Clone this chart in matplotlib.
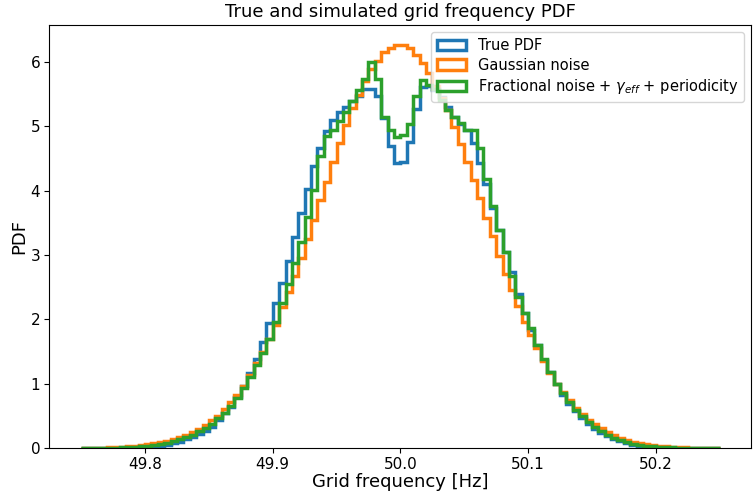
import numpy as np
import matplotlib
matplotlib.use("Agg")
import matplotlib.pyplot as plt

# bin edges of the histograms [Hz]
edges = np.linspace(49.75, 50.25, 101)

# PDF values per bin
true_pdf = [0.001, 0.001, 0.001, 0.001, 0.002, 0.002, 0.003, 0.004, 0.006, 0.010,
            0.016, 0.025, 0.038, 0.055, 0.075, 0.10, 0.135, 0.17, 0.22, 0.27,
            0.33, 0.43, 0.54, 0.64, 0.80, 0.96, 1.16, 1.39, 1.65, 1.94,
            2.25, 2.57, 2.91, 3.28, 3.65, 4.03, 4.38, 4.66, 4.93, 5.10,
            5.22, 5.30, 5.39, 5.48, 5.58, 5.58, 5.47, 5.13, 4.69, 4.43,
            4.45, 4.76, 5.27, 5.62, 5.63, 5.57, 5.45, 5.30, 5.14, 5.03,
            4.95, 4.74, 4.43, 4.10, 3.73, 3.39, 3.05, 2.73, 2.40, 2.10,
            1.84, 1.60, 1.37, 1.19, 1.00, 0.83, 0.69, 0.57, 0.46, 0.37,
            0.30, 0.24, 0.185, 0.14, 0.105, 0.078, 0.055, 0.038, 0.026, 0.018,
            0.012, 0.008, 0.005, 0.004, 0.003, 0.002, 0.001, 0.001, 0.001, 0.001]

gauss_pdf = [0.003, 0.004, 0.006, 0.008, 0.011, 0.015, 0.02, 0.027, 0.035, 0.045,
             0.057, 0.072, 0.09, 0.115, 0.14, 0.17, 0.20, 0.25, 0.30, 0.36,
             0.43, 0.50, 0.61, 0.72, 0.83, 0.97, 1.14, 1.32, 1.50, 1.70,
             1.92, 2.20, 2.43, 2.68, 2.95, 3.25, 3.55, 3.86, 4.14, 4.44,
             4.74, 5.02, 5.28, 5.49, 5.70, 5.89, 6.02, 6.16, 6.22, 6.26,
             6.26, 6.22, 6.11, 5.98, 5.83, 5.63, 5.44, 5.26, 4.99, 4.73,
             4.45, 4.17, 3.88, 3.58, 3.29, 2.99, 2.71, 2.46, 2.21, 1.96,
             1.75, 1.55, 1.35, 1.16, 1.00, 0.87, 0.74, 0.62, 0.53, 0.44,
             0.37, 0.31, 0.25, 0.20, 0.16, 0.125, 0.10, 0.075, 0.058, 0.045,
             0.035, 0.027, 0.02, 0.015, 0.011, 0.008, 0.006, 0.004, 0.003, 0.003]

frac_pdf = [0.002, 0.002, 0.003, 0.004, 0.006, 0.008, 0.011, 0.015, 0.020, 0.028,
            0.038, 0.05, 0.065, 0.085, 0.11, 0.14, 0.17, 0.21, 0.26, 0.31,
            0.37, 0.46, 0.54, 0.65, 0.78, 0.93, 1.11, 1.29, 1.48, 1.69,
            1.96, 2.25, 2.55, 2.87, 3.20, 3.59, 4.01, 4.54, 4.85, 4.94,
            5.08, 5.22, 5.40, 5.57, 5.74, 6.00, 5.73, 5.14, 4.94, 4.84,
            4.87, 5.04, 5.48, 5.72, 5.65, 5.58, 5.41, 5.26, 5.14, 5.05,
            4.95, 4.95, 4.66, 4.18, 3.77, 3.39, 3.04, 2.67, 2.35, 2.10,
            1.86, 1.60, 1.39, 1.19, 1.00, 0.86, 0.72, 0.59, 0.50, 0.41,
            0.33, 0.27, 0.21, 0.16, 0.12, 0.09, 0.068, 0.05, 0.037, 0.027,
            0.019, 0.013, 0.009, 0.006, 0.004, 0.003, 0.002, 0.002, 0.001, 0.001]

labels = ["True PDF", "Gaussian noise",
          r"Fractional noise + $\gamma_{eff}$ + periodicity"]

fig = plt.figure(figsize=(7.53, 4.94), dpi=100)
ax = fig.add_axes([0.0655, 0.093, 0.9325, 0.856])

centers = 0.5 * (edges[:-1] + edges[1:])
for vals, lab in zip([true_pdf, gauss_pdf, frac_pdf], labels):
    ax.hist(centers, bins=edges, weights=vals, histtype="step",
            linewidth=2.5, label=lab)

ax.set_title("True and simulated grid frequency PDF", fontsize=13)
ax.set_xlabel("Grid frequency [Hz]", fontsize=13, labelpad=1)
ax.set_ylabel("PDF", fontsize=13, labelpad=2)
ax.tick_params(labelsize=11, pad=3)
ax.legend(loc="upper right", fontsize=10.5, labelspacing=0.3)

fig.savefig("out.png", dpi=100)
